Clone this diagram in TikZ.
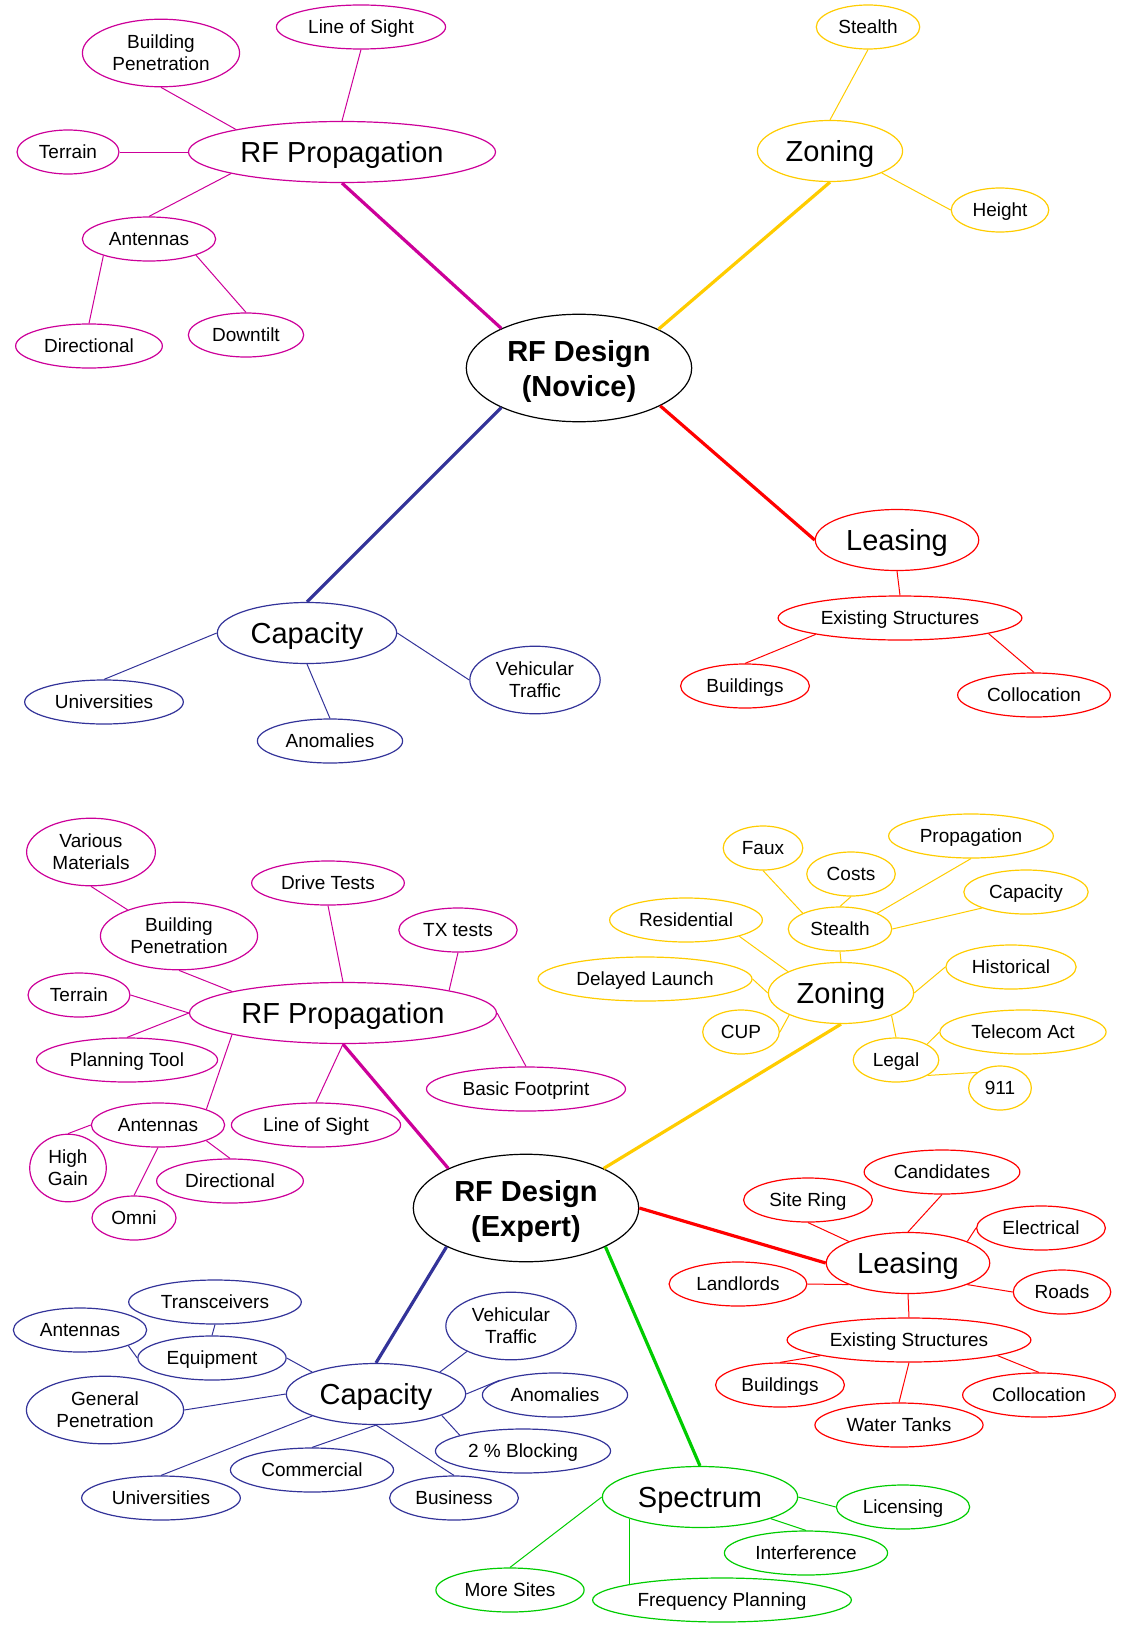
\documentclass[tikz,border=0pt]{standalone}
\usepackage{fontspec}
\setmainfont{Liberation Sans}
\usetikzlibrary{shapes.geometric}
\definecolor{mag}{HTML}{CC0099}
\definecolor{ylw}{HTML}{FFCC00}
\definecolor{rd}{HTML}{FF0000}
\definecolor{blu}{HTML}{333399}
\definecolor{grn}{HTML}{00CC00}

\begin{document}
\begin{tikzpicture}[x=0.5pt, y=-0.5pt,
  leaf/.style={ellipse, draw=#1, line width=0.6pt, inner xsep=3.5pt, inner ysep=3pt,
    minimum height=22pt, text depth=0pt, align=center, font=\fontsize{9.5}{11}\selectfont},
  branch/.style={leaf=#1, minimum height=30.5pt, font=\fontsize{14.5}{17}\selectfont},
  hub/.style={ellipse, draw, line width=0.6pt, inner xsep=4pt, inner ysep=5pt, text depth=0pt,
    align=center, font=\bfseries\fontsize{14.5}{17.5}\selectfont},
  twig/.style={draw=#1, line width=0.5pt},
  limb/.style={draw=#1, line width=1.6pt}]
  \useasboundingbox (0,0) rectangle (1122,1627);

  % novice
  \node[hub] (nroot) at (579,368) {RF Design\\(Novice)};
  \node[branch=mag] (nprop) at (342,152) {RF Propagation};
  \node[leaf=mag] (nbuild) at (161,53) {Building\\Penetration};
  \node[leaf=mag] (nlos) at (361,27) {Line of Sight};
  \node[leaf=mag] (nterr) at (68,152) {Terrain};
  \node[leaf=mag] (nant) at (149,239) {Antennas};
  \node[leaf=mag] (ndir) at (89,346) {Directional};
  \node[leaf=mag] (ndown) at (246,335) {Downtilt};
  \node[branch=ylw] (nzon) at (830,151) {Zoning};
  \node[leaf=ylw] (nstealth) at (868,27) {Stealth};
  \node[leaf=ylw] (nheight) at (1000,210) {Height};
  \node[branch=rd] (nlease) at (897,540) {Leasing};
  \node[leaf=rd] (nexist) at (900,618) {Existing Structures};
  \node[leaf=rd] (nbldg) at (745,686) {Buildings};
  \node[leaf=rd] (ncolloc) at (1034,695) {Collocation};
  \node[branch=blu] (ncap) at (307,633) {Capacity};
  \node[leaf=blu] (nuniv) at (104,702) {Universities};
  \node[leaf=blu] (nanom) at (330,741) {Anomalies};
  \node[leaf=blu] (nveh) at (535,680) {Vehicular\\Traffic};

  \draw[limb=mag] (nroot.153) -- (nprop.south);
  \draw[limb=ylw] (nroot.26) -- (nzon.south);
  \draw[limb=blu] (nroot.207) -- (ncap.north);
  \draw[limb=rd] (nroot.335) -- (nlease.west);
  \foreach \a/\b in {nbuild.south/nprop.168, nlos.south/nprop.north, nterr.east/nprop.west,
      nprop.191/nant.north, nant.200/ndir.north, nant.341/ndown.north}
    \draw[twig=mag] (\a) -- (\b);
  \foreach \a/\b in {nstealth.south/nzon.north, nzon.337/nheight.west}
    \draw[twig=ylw] (\a) -- (\b);
  \foreach \a/\b in {nlease.south/nexist.north, nexist.191/nbldg.north, nexist.350/ncolloc.north}
    \draw[twig=rd] (\a) -- (\b);
  \foreach \a/\b in {ncap.west/nuniv.north, ncap.south/nanom.north, ncap.east/nveh.west}
    \draw[twig=blu] (\a) -- (\b);

  % expert
  \node[hub] (eroot) at (526,1208) {RF Design\\(Expert)};
  \node[branch=mag] (eprop) at (343,1013) {RF Propagation};
  \node[leaf=mag] (evar) at (91,852) {Various\\Materials};
  \node[leaf=mag] (ebuild) at (179,936) {Building\\Penetration};
  \node[leaf=mag] (edrive) at (328,883) {Drive Tests};
  \node[leaf=mag] (etx) at (458,930) {TX tests};
  \node[leaf=mag] (eterr) at (79,995) {Terrain};
  \node[leaf=mag] (eplan) at (127,1060) {Planning Tool};
  \node[leaf=mag] (efoot) at (526,1089) {Basic Footprint};
  \node[leaf=mag] (eant) at (158,1125) {Antennas};
  \node[leaf=mag] (elos) at (316,1125) {Line of Sight};
  \node[leaf=mag] (ehigh) at (68,1168) {High\\Gain};
  \node[leaf=mag] (edir) at (230,1181) {Directional};
  \node[leaf=mag] (eomni) at (134,1218) {Omni};

  \node[branch=ylw] (ezon) at (841,993) {Zoning};
  \node[leaf=ylw] (estealth) at (840,929) {Stealth};
  \node[leaf=ylw] (efaux) at (763,848) {Faux};
  \node[leaf=ylw] (ecosts) at (851,874) {Costs};
  \node[leaf=ylw] (epropag) at (971,836) {Propagation};
  \node[leaf=ylw] (ecapy) at (1026,892) {Capacity};
  \node[leaf=ylw] (eres) at (686,920) {Residential};
  \node[leaf=ylw] (edelay) at (645,979) {Delayed Launch};
  \node[leaf=ylw] (ehist) at (1011,967) {Historical};
  \node[leaf=ylw] (ecup) at (741,1032) {CUP};
  \node[leaf=ylw] (elegal) at (896,1060) {Legal};
  \node[leaf=ylw] (etelecom) at (1023,1032) {Telecom Act};
  \node[leaf=ylw] (e911) at (1000,1088) {911};

  \node[branch=rd] (elease) at (908,1263) {Leasing};
  \node[leaf=rd] (esite) at (808,1200) {Site Ring};
  \node[leaf=rd] (ecand) at (942,1172) {Candidates};
  \node[leaf=rd] (eelec) at (1041,1228) {Electrical};
  \node[leaf=rd] (elandl) at (738,1284) {Landlords};
  \node[leaf=rd] (eroads) at (1062,1292) {Roads};
  \node[leaf=rd] (eexist) at (909,1340) {Existing Structures};
  \node[leaf=rd] (ebldg) at (780,1385) {Buildings};
  \node[leaf=rd] (ewater) at (899,1425) {Water Tanks};
  \node[leaf=rd] (ecolloc) at (1039,1395) {Collocation};

  \node[branch=blu] (ecap) at (376,1394) {Capacity};
  \node[leaf=blu] (etrans) at (215,1302) {Transceivers};
  \node[leaf=blu] (eantb) at (80,1330) {Antennas};
  \node[leaf=blu] (eequip) at (212,1358) {Equipment};
  \node[leaf=blu] (egen) at (105,1410) {General\\Penetration};
  \node[leaf=blu] (eveh) at (511,1326) {Vehicular\\Traffic};
  \node[leaf=blu] (eanom) at (555,1395) {Anomalies};
  \node[leaf=blu] (eblock) at (523,1451) {2 \% Blocking};
  \node[leaf=blu] (ecomm) at (312,1470) {Commercial};
  \node[leaf=blu] (euniv) at (161,1498) {Universities};
  \node[leaf=blu] (ebus) at (454,1498) {Business};

  \node[branch=grn] (espec) at (700,1497) {Spectrum};
  \node[leaf=grn] (elic) at (903,1507) {Licensing};
  \node[leaf=grn] (einter) at (806,1553) {Interference};
  \node[leaf=grn] (emore) at (510,1590) {More Sites};
  \node[leaf=grn] (efreq) at (722,1600) {Frequency Planning};

  \draw[limb=mag] (eroot.153) -- (eprop.south);
  \draw[limb=ylw] (eroot.27) -- (ezon.south);
  \draw[limb=rd] (eroot.east) -- (elease.west);
  \draw[limb=blu] (eroot.206) -- (ecap.north);
  \draw[limb=grn] (eroot.334) -- (espec.north);
  \foreach \a/\b in {evar.south/ebuild.153, ebuild.south/eprop.169, edrive.south/eprop.north,
      etx.south/eprop.12, eterr.east/eprop.west, eplan.north/eprop.west, eprop.east/efoot.north,
      eprop.191/eant.18, eprop.south/elos.north, eant.west/ehigh.north, eant.342/edir.north,
      eant.south/eomni.north}
    \draw[twig=mag] (\a) -- (\b);
  \foreach \a/\b in {estealth.south/ezon.north, eres.343/ezon.158, edelay.east/ezon.west,
      ezon.east/ehist.west, ezon.203/ecup.east, ezon.336/elegal.north, efaux.south/estealth.157,
      ecosts.south/estealth.north, epropag.south/estealth.23, ecapy.200/estealth.east,
      elegal.27/etelecom.west, elegal.334/e911.146}
    \draw[twig=ylw] (\a) -- (\b);
  \foreach \a/\b in {esite.south/elease.160, ecand.south/elease.north, eelec.west/elease.20,
      elandl.east/elease.200, elease.340/eroads.west, elease.south/eexist.north,
      eexist.190/ebldg.north, eexist.south/ewater.north, eexist.350/ecolloc.north}
    \draw[twig=rd] (\a) -- (\b);
  \foreach \a/\b in {etrans.south/eequip.north, eantb.342/eequip.west, eequip.east/ecap.161,
      egen.east/ecap.west, ecap.19/eveh.210, ecap.east/eanom.165, ecap.342/eblock.166,
      ecap.199/euniv.north, ecap.south/ecomm.north, ecap.south/ebus.north}
    \draw[twig=blu] (\a) -- (\b);
  \foreach \a/\b in {espec.east/elic.west, espec.343/einter.north, espec.west/emore.north}
    \draw[twig=grn] (\a) -- (\b);
  \draw[twig=grn] (espec.197) -- (espec.197 |- efreq.170);
\end{tikzpicture}
\end{document}
